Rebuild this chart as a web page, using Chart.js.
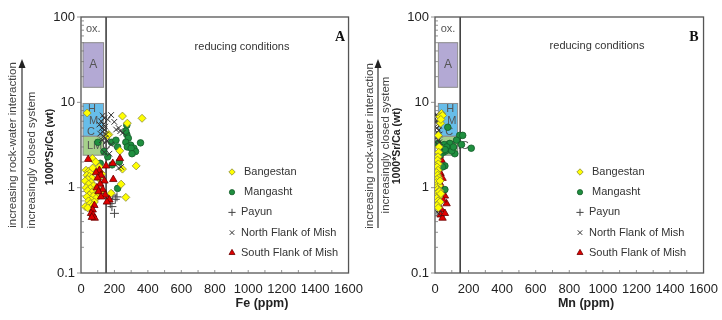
<!DOCTYPE html>
<html><head><meta charset="utf-8">
<script src="https://cdn.jsdelivr.net/npm/chart.js@4.4.1/dist/chart.umd.min.js"></script>
<style>
html,body{margin:0;padding:0;background:#fff;overflow:hidden;width:722px;height:320px;}
#wrap{position:relative;width:722px;height:320px;overflow:hidden;}
canvas{position:absolute;top:0;}
</style></head><body>
<div id="wrap">
<canvas id="cA" width="372" height="320" style="left:0;width:372px;height:320px"></canvas>
<canvas id="cB" width="366" height="320" style="left:361px;width:366px;height:320px"></canvas>
</div>
<script>
// ---------- data ----------
const categories = ['Bangestan', 'Mangasht', 'Payun', 'North Flank of Mish', 'South Flank of Mish'];
const xTicks = [0, 200, 400, 600, 800, 1000, 1200, 1400, 1600];
const yTickLabels = [0.1, 1, 10, 100];
const boundaryPpm = 150;
const fieldA = [15, 50];
const fieldHMC = [4, 9.7];
const fieldLMC = [2.4, 4];
const fieldFeRange = [12, 135];
const fieldMnRange = [20, 135];

// Panel A: Fe (ppm) vs 1000*Sr/Ca
const feBangestan = [[37,7.5],[248,6.9],[365,6.5],[277,5.7],[166,4.2],[160,4.1],[232,2.7],[68,2.2],[88,2.0],[330,1.8],[248,1.65],[268,0.77],[180,0.86],[240,1.1],
 [30,1.6],[45,1.55],[55,1.5],[35,1.4],[50,1.35],[65,1.3],[40,1.25],[25,1.2],[60,1.15],[45,1.1],[75,1.05],[30,1.0],[55,0.98],[85,0.95],[40,0.92],[65,0.88],
 [100,0.85],[50,0.82],[75,0.8],[35,0.78],[90,0.75],[60,0.72],[45,0.7],[80,0.68],[55,0.65],[70,0.62],[25,0.6],[40,0.58],[115,0.9],[105,1.3],[125,1.45],[95,1.6],[110,1.75],[70,1.7]];
const feMangasht = [[101,3.4],[137,2.65],[183,3.4],[274,4.2],[283,3.8],[268,3.4],[297,3.15],[316,2.9],[326,2.65],[356,3.35],[229,2.0],[115,1.93],[186,1.85],[219,0.98],
 [274,5.4],[268,4.6],[209,3.6],[219,3.0],[277,3.0],[300,2.9],[160,2.3],[305,2.5]];
const fePayun = [[150,0.85],[165,0.75],[175,0.65],[185,0.6],[200,0.5],[205,0.73],[190,0.82],[215,0.78]];
const feNorthFlank = [[130,7.0],[140,6.5],[120,6.0],[135,5.5],[145,5.2],[125,5.0],[140,4.8],[130,4.5],[115,4.3],[150,4.2],[135,4.0],[145,3.8],[125,3.6],[155,3.5],
 [110,5.5],[180,7.1],[199,5.9],[225,5.0],[235,4.6],[250,4.4],[210,4.8],[170,2.5],[225,1.7],[240,1.75],[160,6.3],[180,3.2],[140,2.6]];
const feSouthFlank = [[43,2.15],[150,1.8],[233,2.2],[193,1.25],[110,1.6],[90,1.5],[120,1.4],[100,1.3],[140,1.2],[115,1.1],[95,1.0],[130,0.95],[105,0.9],
 [145,0.82],[170,0.72],[155,0.68],[120,0.78],[80,0.62],[70,0.55],[60,0.5],[72,0.48],[82,0.44],[65,0.45],[190,1.93]];

// Panel B: Mn (ppm) vs 1000*Sr/Ca
const mnBangestan = [[39,7.4],[29,6.8],[45,7.0],[33,5.7],[35,6.3],[20,4.1],[25,3.0],[22,2.6],[18,2.3],[15,2.1],[20,1.9],[12,1.75],[18,1.6],[10,1.5],[15,1.4],
 [22,1.3],[12,1.25],[8,1.15],[18,1.1],[25,1.05],[10,1.0],[15,0.95],[28,0.92],[20,0.88],[8,0.85],[14,0.8],[24,0.78],[10,0.75],[18,0.7],[30,0.68],[12,0.62],
 [20,0.58],[25,0.9],[30,1.2],[35,0.85]];
const mnMangasht = [[76,5.1],[18,3.3],[147,4.1],[165,4.1],[128,3.6],[158,3.2],[216,2.9],[88,3.3],[118,2.5],[59,1.8],[45,1.75],[59,0.95],
 [35,3.1],[55,3.2],[70,3.0],[50,2.6],[65,2.7],[100,2.7],[30,2.4],[60,2.8],[110,3.0]];
const mnPayun = [[30,2.0],[40,1.7],[20,0.65],[35,0.55]];
const mnNorthFlank = [[10,7.2],[15,6.8],[20,6.5],[12,6.0],[18,5.6],[25,5.3],[10,5.0],[22,4.7],[15,4.4],[28,4.2],[12,3.9],[20,3.6],[25,3.4],[15,3.2],[30,3.0],
 [18,2.0],[10,1.0],[25,0.55],[20,0.5],[30,0.75],[8,1.3]];
const mnSouthFlank = [[29,2.4],[39,2.1],[25,1.75],[33,1.47],[45,1.29],[29,1.13],[49,0.94],[59,0.8],[69,0.65],[39,0.55],[33,0.48],[45,0.44],[47,0.72],[59,0.5],[43,0.89]];

// ---------- styles ----------
const FONT = '"Liberation Sans", Arial, Helvetica, sans-serif';
const seriesStyle = [
  {pointStyle:'rectRot', radius:4, backgroundColor:'#ffff00', borderColor:'#8a8a3a', borderWidth:0.8},
  {pointStyle:'circle', radius:3.3, backgroundColor:'#1f8f3f', borderColor:'#145a28', borderWidth:0.8},
  {pointStyle:'cross', radius:4.5, backgroundColor:'#444', borderColor:'#444', borderWidth:1},
  {pointStyle:'crossRot', radius:4, backgroundColor:'#333', borderColor:'#333', borderWidth:1},
  {pointStyle:'triangle', radius:4.3, backgroundColor:'#e00000', borderColor:'#6a0000', borderWidth:0.8}
];
const toXY = arr => arr.map(([x, y]) => ({x, y}));

function panelPlugin(p) {
  return {
    id: 'deco' + p.key,
    beforeDatasetsDraw(chart) {
      const {ctx, chartArea: a, scales: {x, y}} = chart;
      ctx.save();
      const bx0 = x.getPixelForValue(p.boxX[0]), bx1 = x.getPixelForValue(p.boxX[1]);
      const drawBox = (r, fill) => {
        const y0 = y.getPixelForValue(r[1]), y1 = y.getPixelForValue(r[0]);
        ctx.fillStyle = fill; ctx.fillRect(bx0, y0, bx1 - bx0, y1 - y0);
        ctx.strokeStyle = '#8c8c8c'; ctx.lineWidth = 1; ctx.strokeRect(bx0, y0, bx1 - bx0, y1 - y0);
      };
      drawBox(fieldA, '#b3a9d4');
      drawBox(fieldHMC, '#67bde9');
      drawBox(fieldLMC, '#a6d08b');
      ctx.fillStyle = '#555';
      ctx.font = '12px ' + FONT; ctx.textAlign = 'center'; ctx.textBaseline = 'middle';
      ctx.fillText('A', (bx0 + bx1) / 2, y.getPixelForValue(Math.sqrt(fieldA[0] * fieldA[1])));
      ctx.font = '11px ' + FONT;
      ctx.fillText('ox.', (bx0 + bx1) / 2, a.top + 12);
      ctx.textAlign = 'left';
      ctx.fillText('H', bx0 + p.hmcDx, y.getPixelForValue(8.3));
      ctx.fillText('M', bx0 + p.hmcDx + 1, y.getPixelForValue(6.0));
      ctx.fillText('C', bx0 + p.hmcDx - 1, y.getPixelForValue(4.5));
      ctx.fillText('LMC', bx0 + p.hmcDx - 1, y.getPixelForValue(3.08));
      // boundary line
      const bl = x.getPixelForValue(boundaryPpm);
      ctx.strokeStyle = '#333'; ctx.lineWidth = 1.5;
      ctx.beginPath(); ctx.moveTo(bl, a.top); ctx.lineTo(bl, a.bottom); ctx.stroke();
      // frame
      ctx.strokeStyle = '#555'; ctx.lineWidth = 1.3;
      ctx.strokeRect(a.left, a.top, a.right - a.left, a.bottom - a.top);
      // tick marks
      ctx.lineWidth = 0.8; ctx.strokeStyle = '#777';
      ctx.beginPath();
      for (let d = 0.1; d < 100; d *= 10) {
        for (let k = 2; k <= 9; k++) {
          const py = y.getPixelForValue(d * k);
          ctx.moveTo(a.left, py); ctx.lineTo(a.left + 3, py);
        }
      }
      yTickLabels.forEach(v => { const py = y.getPixelForValue(v); ctx.moveTo(a.left - 4, py); ctx.lineTo(a.left, py); });
      for (let v = 100; v < 1600; v += 100) {
        const px = x.getPixelForValue(v);
        ctx.moveTo(px, a.bottom); ctx.lineTo(px, a.bottom - 3);
      }
      ctx.stroke();
      ctx.restore();
    },
    afterDraw(chart) {
      const {ctx} = chart;
      ctx.save();
      ctx.fillStyle = '#333';
      ctx.textBaseline = 'middle';
      // text annotations
      ctx.font = '11px ' + FONT; ctx.textAlign = 'center';
      ctx.fillText('reducing conditions', p.redX, p.redY);
      ctx.font = 'bold 14px "Liberation Serif", "Times New Roman", serif';
      ctx.fillStyle = '#111';
      ctx.fillText(p.key, p.letterX, p.letterY);
      ctx.fillStyle = '#222';
      ctx.font = 'bold 12.5px ' + FONT;
      ctx.fillText(p.xTitle, p.xTitleX, 304);
      // rotated y titles
      const rot = (txt, font, cx, cy, color) => {
        ctx.save(); ctx.translate(cx, cy); ctx.rotate(-Math.PI / 2);
        ctx.font = font; ctx.fillStyle = color; ctx.textAlign = 'center'; ctx.textBaseline = 'middle';
        ctx.fillText(txt, 0, 0); ctx.restore();
      };
      rot('increasing rock-water interaction', '11.5px ' + FONT, p.t1x, p.t1y, '#444');
      rot('increasingly closed system', '11.5px ' + FONT, p.t2x, p.t2y, '#444');
      rot('1000*Sr/Ca (wt)', 'bold 10.5px ' + FONT, p.t3x, p.t3y, '#222');
      // arrow
      ctx.strokeStyle = '#333'; ctx.fillStyle = '#222'; ctx.lineWidth = 1.2;
      ctx.beginPath(); ctx.moveTo(p.arX, 228); ctx.lineTo(p.arX, 66); ctx.stroke();
      ctx.beginPath(); ctx.moveTo(p.arX, 59); ctx.lineTo(p.arX - 3.5, 68); ctx.lineTo(p.arX + 3.5, 68); ctx.closePath(); ctx.fill();
      // legend
      categories.forEach((name, i) => {
        const s = seriesStyle[i];
        const ly = 172 + i * 20.2;
        ctx.fillStyle = s.backgroundColor; ctx.strokeStyle = s.borderColor; ctx.lineWidth = s.borderWidth;
        Chart.helpers.drawPoint(ctx, {pointStyle: s.pointStyle, radius: s.radius * 0.8, borderWidth: s.borderWidth, rotation: 0}, p.legX, ly);
        ctx.fillStyle = '#333'; ctx.font = '11px ' + FONT; ctx.textAlign = 'left';
        ctx.fillText(name, p.legX + (i < 2 ? 12 : 9), ly);
      });
      ctx.restore();
    }
  };
}

function makeChart(id, series, p) {
  const datasets = categories.map((name, i) => Object.assign({
    label: name, data: toXY(series[i]),
    pointRadius: seriesStyle[i].radius,
    pointBackgroundColor: seriesStyle[i].backgroundColor,
    pointBorderColor: seriesStyle[i].borderColor,
    pointBorderWidth: seriesStyle[i].borderWidth,
    pointStyle: seriesStyle[i].pointStyle,
    order: p.order[i]
  }));
  return new Chart(document.getElementById(id), {
    type: 'scatter',
    data: {datasets},
    options: {
      responsive: false, animation: false, devicePixelRatio: 1,
      layout: {padding: {left: 0, top: 17, right: p.canvasW - p.areaRight, bottom: 0}},
      plugins: {legend: {display: false}, tooltip: {enabled: false}},
      scales: {
        x: {
          type: 'linear', min: 0, max: 1600,
          afterBuildTicks: s => { s.ticks = xTicks.map(v => ({value: v})); },
          afterFit: s => { s.height = 320 - 273; },
          grid: {display: false, drawTicks: false}, border: {display: false},
          ticks: {autoSkip: false, maxRotation: 0, padding: 9, color: '#222', font: {family: FONT, size: 13},
            callback: v => String(v)}
        },
        y: {
          type: 'logarithmic', min: 0.1, max: 100,
          afterBuildTicks: s => { s.ticks = yTickLabels.map(v => ({value: v, major: true})); },
          afterFit: s => { s.width = p.areaLeft; },
          grid: {display: false, drawTicks: false}, border: {display: false},
          ticks: {autoSkip: false, padding: 6, color: '#222', font: {family: FONT, size: 13},
            callback: v => String(v)}
        }
      }
    },
    plugins: [panelPlugin(p)]
  });
}

makeChart('cA', [feBangestan, feMangasht, fePayun, feNorthFlank, feSouthFlank], {
  key: 'A', canvasW: 372, areaLeft: 81, areaRight: 354, boxX: fieldFeRange, hmcDx: 5,
  xTitle: 'Fe (ppm)', xTitleX: 262, redX: 242, redY: 47, letterX: 340, letterY: 37,
  t1x: 13, t1y: 145, t2x: 32, t2y: 160, t3x: 50, t3y: 147, arX: 22, legX: 232,
  order: [3, 4, 5, 1, 2]
});
makeChart('cB', [mnBangestan, mnMangasht, mnPayun, mnNorthFlank, mnSouthFlank], {
  key: 'B', canvasW: 366, areaLeft: 74, areaRight: 346, boxX: fieldMnRange, hmcDx: 8,
  xTitle: 'Mn (ppm)', xTitleX: 225, redX: 236, redY: 46, letterX: 333, letterY: 37,
  t1x: 9, t1y: 146, t2x: 25, t2y: 145, t3x: 36, t3y: 146, arX: 17, legX: 219,
  order: [1, 3, 5, 2, 4]
});
</script>
</body></html>
